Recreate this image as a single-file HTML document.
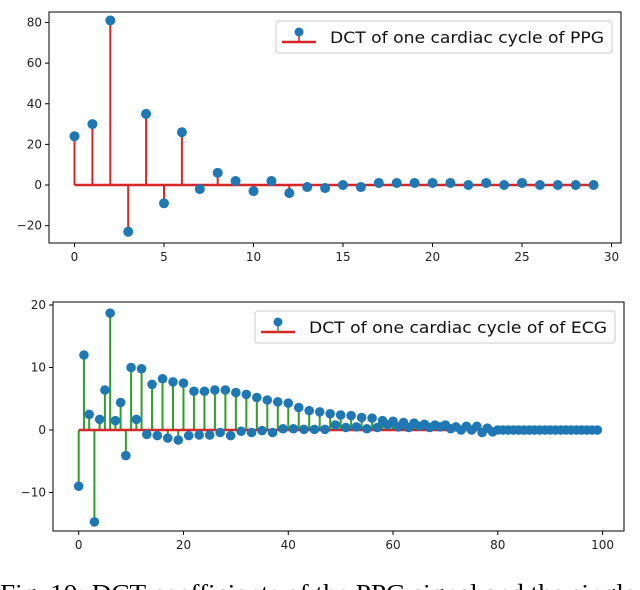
<!DOCTYPE html>
<html><head><meta charset="utf-8"><style>
body{margin:0;background:#fff;width:640px;height:590px;overflow:hidden}
svg{display:block}
text{font-family:"DejaVu Sans","Liberation Sans",sans-serif}
</style></head><body>
<svg id="s" width="640" height="590" xmlns="http://www.w3.org/2000/svg">
<text x="0" y="601" style="font-family:'Liberation Serif',serif" font-size="24" textLength="645" lengthAdjust="spacingAndGlyphs">Fig. 10: DCT coefficients of the PPG signal and the single-</text>
</svg>
<script>
const ppgValues=[24,30,81,-23,35,-9,26,-2,6,2,-3,2,-4,-1,-1.5,0,-1,1,1,1,1,1,0,1,0,1,0,0,0,0];
const ppgXTicks=[0,5,10,15,20,25,30];
const ppgYTicks=[-20,0,20,40,60,80];
const ecgValues=[-9,12,2.5,-14.7,1.7,6.4,18.7,1.5,4.4,-4.1,10,1.7,9.8,-0.7,7.3,-0.9,8.2,-1.3,7.7,-1.6,7.5,-0.9,6.2,-0.8,6.2,-0.8,6.4,-0.4,6.4,-0.9,6,-0.2,5.7,-0.4,5.2,-0.1,4.8,-0.4,4.5,0.2,4.3,0.2,3.6,0.1,3.1,0.1,2.9,0.1,2.6,0.8,2.4,0.4,2.3,0.5,2.0,0.2,1.9,0.4,1.5,0.8,1.4,0.5,1.2,0.4,1.1,0.6,0.9,0.4,0.8,0.5,0.8,0.2,0.5,0,0.6,0,0.6,-0.4,0.3,-0.3,0,0,0,0,0,0,0,0,0,0,0,0,0,0,0,0,0,0,0,0];
const ecgXTicks=[0,20,40,60,80,100];
const ecgYTicks=[-10,0,10,20];
const NS='http://www.w3.org/2000/svg';
const svg=document.getElementById('s');
function mk(tag,attrs,parent){const e=document.createElementNS(NS,tag);for(const k in attrs)e.setAttribute(k,attrs[k]);(parent||svg).appendChild(e);return e;}
function chart(cfg){
  const g=mk('g',{});
  
  
  const sx=v=>cfg.px0+(v-cfg.x0)*(cfg.px1-cfg.px0)/(cfg.x1-cfg.x0);
  const sy=v=>cfg.py0+(v-cfg.y0)*(cfg.py1-cfg.py0)/(cfg.y1-cfg.y0);
  const B=cfg.box;
  const ax=mk('rect',{x:B[0],y:B[1],width:B[2]-B[0],height:B[3]-B[1],fill:'none',stroke:'#000','stroke-width':1},g);
  
  
  cfg.xt.forEach(t=>{const x=sx(t);
    mk('line',{x1:x,x2:x,y1:B[3],y2:B[3]+4,stroke:'#000'},g);
    const tx=mk('text',{x:x,y:B[3]+18,'font-size':12,'text-anchor':'middle',fill:'#222'},g);tx.textContent=t;
    
    });
  cfg.yt.forEach(t=>{const y=sy(t);
    mk('line',{x1:B[0]-4,x2:B[0],y1:y,y2:y,stroke:'#000'},g);
    const tx=mk('text',{x:B[0]-7,y:y+4,'font-size':12,'text-anchor':'end',fill:'#222'},g);tx.textContent=t<0?'\u2212'+(-t):t;
    
    });
  cfg.vals.forEach((v,i)=>{const x=sx(i);
    const st=mk('line',{x1:x,x2:x,y1:sy(0),y2:sy(v),stroke:cfg.stem,'stroke-width':2},g);
    
    });
  const bl=mk('line',{x1:sx(0),x2:sx(cfg.vals.length-1),y1:sy(0),y2:sy(0),stroke:'#d62728','stroke-width':2.5},g);
  
  
  cfg.vals.forEach((v,i)=>{
    const c=mk('circle',{cx:sx(i),cy:sy(v),r:cfg.r,fill:'#1f77b4'},g);
    
    });
  const L=cfg.leg;
  const lg=mk('g',{},g);
  
  
  mk('rect',{x:L[0],y:L[1],width:L[2]-L[0],height:L[3]-L[1],rx:3,fill:'#fff',stroke:'#ccc'},lg);
  const my=(L[1]+L[3])/2;
  mk('line',{x1:L[0]+6,x2:L[0]+40,y1:my+5,y2:my+5,stroke:'#d62728','stroke-width':2.5},lg);
  mk('line',{x1:L[0]+23,x2:L[0]+23,y1:my+5,y2:my-5,stroke:cfg.stem,'stroke-width':1.5},lg);
  mk('circle',{cx:L[0]+23,cy:my-5,r:4.5,fill:'#1f77b4'},lg);
  const lt=mk('text',{x:L[0]+54,y:my+6,'font-size':16,fill:'#111',textLength:L[2]-L[0]-62,lengthAdjust:'spacingAndGlyphs'},lg);
  lt.textContent=cfg.label;
  
  
}
chart({name:'ppg-chart',vals:ppgValues,xt:ppgXTicks,yt:ppgYTicks,box:[49,12,621,243],
  x0:0,x1:30,px0:74.5,px1:611.5,y0:0,y1:80,py0:185,py1:22.5,stem:'#d62728',r:5,
  leg:[276,21,612,53],label:'DCT of one cardiac cycle of PPG'});
chart({name:'ecg-chart',vals:ecgValues,xt:ecgXTicks,yt:ecgYTicks,box:[53,302,624,531],
  x0:0,x1:100,px0:78.7,px1:602.6,y0:0,y1:20,py0:430,py1:305,stem:'#2ca02c',r:4.8,
  leg:[255,311,615,343],label:'DCT of one cardiac cycle of of ECG'});
</script>
</body></html>
